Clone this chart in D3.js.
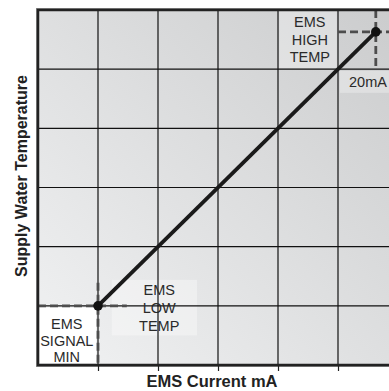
<!DOCTYPE html>
<html><head><meta charset="utf-8">
<script src="https://cdn.jsdelivr.net/npm/d3@7"></script>
<style>html,body{margin:0;padding:0;background:#fff;}svg{display:block;}</style>
</head><body>
<svg id="c" width="389" height="391"></svg>
<script>
// grid units: x = current grid columns, y = temperature grid rows
const xGrid = [0, 1, 2, 3, 4, 5, 6];
const yGrid = [0, 1, 2, 3, 4, 5, 6];
const linePoints = [[1, 1], [5.63, 5.63]]; // EMS LOW TEMP @ signal min -> EMS HIGH TEMP @ 20mA
const lowDashH = [[0, 1], [1.48, 1]];
const lowDashV = [[1, 1.39], [1, 0]];
const highDashV = [[5.63, 6], [5.63, 5.02]];
const highDashH = [[5.0, 5.63], [6, 5.63]];
const labelSignalMin = ["EMS", "SIGNAL", "MIN"];
const labelLowTemp = ["EMS", "LOW", "TEMP"];
const labelHighTemp = ["EMS", "HIGH", "TEMP"];
const label20 = ["20mA"];
const xTitle = "EMS Current mA";
const yTitle = "Supply Water Temperature";

const svg = d3.select("#c");
const x = d3.scaleLinear().domain([0, 6]).range([38, 398]);
const y = d3.scaleLinear().domain([0, 6]).range([365, 10]);

const defs = svg.append("defs");
const grad = defs.append("linearGradient").attr("id", "bg")
  .attr("x1", "0").attr("y1", "1").attr("x2", "1").attr("y2", "0");
grad.append("stop").attr("offset", "0").attr("stop-color", "#f1f2f3");
grad.append("stop").attr("offset", "1").attr("stop-color", "#cbcccd");
defs.append("clipPath").attr("id", "clip").append("rect")
  .attr("x", x(0)).attr("y", y(6)).attr("width", x(6) - x(0)).attr("height", y(0) - y(6));

svg.append("rect").attr("x", x(0)).attr("y", y(6)).attr("width", x(6) - x(0)).attr("height", y(0) - y(6))
  .attr("fill", "url(#bg)");

const g = svg.append("g").attr("clip-path", "url(#clip)");

// label backgrounds
g.append("rect").attr("x", x(0.03)).attr("y", y(0.97)).attr("width", x(0.97) - x(0.03)).attr("height", y(0.03) - y(0.97)).attr("fill", "#fff");
g.append("rect").attr("x", x(1.23)).attr("y", y(1.44)).attr("width", x(2.65) - x(1.23)).attr("height", y(0.5) - y(1.44)).attr("fill", "#fff").attr("opacity", 0.35);
g.append("rect").attr("x", x(4.02)).attr("y", y(5.98)).attr("width", x(4.98) - x(4.02)).attr("height", y(5.02) - y(5.98)).attr("fill", "#fff").attr("opacity", 0.3);
g.append("rect").attr("x", x(5.03)).attr("y", y(4.97)).attr("width", x(5.9) - x(5.03)).attr("height", y(4.6) - y(4.97)).attr("fill", "#fff").attr("opacity", 0.3);

// grid
g.selectAll("line.vx").data(xGrid.slice(1, -1)).join("line")
  .attr("x1", d => x(d)).attr("x2", d => x(d)).attr("y1", y(0)).attr("y2", y(6))
  .attr("stroke", "#111").attr("stroke-width", 1.2);
g.selectAll("line.hy").data(yGrid.slice(1, -1)).join("line")
  .attr("y1", d => y(d)).attr("y2", d => y(d)).attr("x1", x(0)).attr("x2", x(6))
  .attr("stroke", "#111").attr("stroke-width", 1.2);

// labels
function lines(arr, cx, baselines) {
  g.append("text").attr("text-anchor", "middle")
    .attr("font-family", "Liberation Sans, Arial, sans-serif").attr("font-size", 14.5).attr("fill", "#2a2a2a")
    .selectAll("tspan").data(arr).join("tspan")
    .attr("x", cx).attr("y", (d, i) => baselines[i]).text(d => d);
}
lines(labelSignalMin, x(0.48), [329, 346, 362]);
lines(labelLowTemp, x(2.02), [295, 313, 331]);
lines(labelHighTemp, x(4.53), [27, 45, 62]);
lines(label20, x(5.5), [87]);

// dashed guides
const ln = d3.line().x(d => x(d[0])).y(d => y(d[1]));
[lowDashH, lowDashV, highDashV, highDashH].forEach(p => {
  g.append("path").attr("d", ln(p)).attr("fill", "none")
    .attr("stroke", "#4d4d4d").attr("stroke-width", 2.8).attr("stroke-dasharray", "8,4");
});

// main line
g.append("path").attr("d", ln(linePoints)).attr("fill", "none")
  .attr("stroke", "#1a1a1a").attr("stroke-width", 3.8);
g.selectAll("circle").data(linePoints).join("circle")
  .attr("cx", d => x(d[0])).attr("cy", d => y(d[1])).attr("r", 4.8).attr("fill", "#111");

// frame
svg.append("rect").attr("x", x(0) - 1.5).attr("y", y(6) - 1.5).attr("width", x(6) - x(0) + 3).attr("height", y(0) - y(6) + 3)
  .attr("fill", "none").attr("stroke", "#888").attr("stroke-width", 1);
svg.append("rect").attr("x", x(0)).attr("y", y(6)).attr("width", x(6) - x(0)).attr("height", y(0) - y(6))
  .attr("fill", "none").attr("stroke", "#222").attr("stroke-width", 2.5);

// bottom ticks
const xAxis = d3.axisBottom(x).tickValues(xGrid.slice(1, -1)).tickSize(5).tickFormat("");
const ax = svg.append("g").attr("transform", `translate(0,${y(0) + 1})`).call(xAxis);
ax.select(".domain").remove();
ax.selectAll("line").attr("stroke", "#222").attr("stroke-width", 1.2);

// titles
svg.append("text").attr("x", 212).attr("y", 387).attr("text-anchor", "middle")
  .attr("font-family", "Liberation Sans, Arial, sans-serif").attr("font-weight", "bold").attr("font-size", 16.5).attr("fill", "#222")
  .text(xTitle);
svg.append("text").attr("transform", "translate(27,176) rotate(-90)").attr("text-anchor", "middle")
  .attr("font-family", "Liberation Sans, Arial, sans-serif").attr("font-weight", "bold").attr("font-size", 16).attr("fill", "#222")
  .text(yTitle);
</script>
</body></html>
